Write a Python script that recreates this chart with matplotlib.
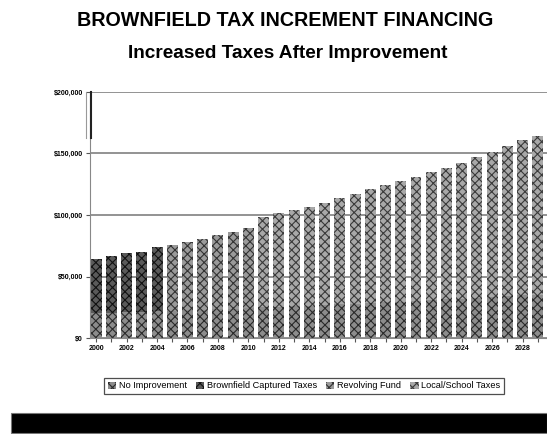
import matplotlib
matplotlib.use("Agg")
import matplotlib.pyplot as plt
from matplotlib.patches import Rectangle
from matplotlib.lines import Line2D
import numpy as np

plt.rcParams['font.family'] = ['Liberation Sans', 'DejaVu Sans']
plt.rcParams['hatch.linewidth'] = 0.8

years = [str(y) for y in range(2000, 2030)]
no_improvement = [20000, 20400, 20800, 21200, 21600, 22000, 22400, 22900, 23300, 23800,
                  24300, 24800, 25300, 25800, 26300, 26800, 27300, 27900, 28400, 29000,
                  29600, 30200, 30800, 31400, 32000, 32600, 33300, 34000, 34600, 35300]
brownfield_captured = [44200, 46300, 48300, 48700, 52400, 0, 0, 0, 0, 0,
                       0, 0, 0, 0, 0, 0, 0, 0, 0, 0,
                       0, 0, 0, 0, 0, 0, 0, 0, 0, 0]
revolving_fund = [0, 0, 0, 0, 0, 53600, 55600, 57600, 60400, 62400,
                  65100, 0, 0, 0, 0, 0, 0, 0, 0, 0,
                  0, 0, 0, 0, 0, 0, 0, 0, 0, 0]
local_school = [0, 0, 0, 0, 0, 0, 0, 0, 0, 0,
                0, 73600, 76300, 78300, 80200, 83000, 86500, 89200, 92700, 95400,
                98000, 100700, 104200, 106800, 110300, 114600, 117900, 122100, 126400, 128900]
series_names = ["No Improvement", "Brownfield Captured Taxes", "Revolving Fund", "Local/School Taxes"]
y_ticks = [0, 50000, 100000, 150000, 200000]
y_tick_labels = ["$0", "$50,000", "$100,000", "$150,000", "$200,000"]

W, H = 547, 434
fig = plt.figure(figsize=(W / 100, H / 100), dpi=100)
ax = fig.add_axes([90 / W, 1 - 338 / H, 1 - 90 / W, (338 - 92) / H])

x = np.arange(len(years))
width = 0.72
styles = [
    dict(color='#8c8c8c', hatch='xxxx', edgecolor='#2a2a2a'),
    dict(color='#5a5a5a', hatch='xxxx', edgecolor='#111111'),
    dict(color='#9a9a9a', hatch='xxxx', edgecolor='#333333'),
    dict(color='#a8a8a8', hatch='xxxx', edgecolor='#3a3a3a'),
]
bottom = np.zeros(len(years))
for name, vals, st in zip(series_names, [no_improvement, brownfield_captured, revolving_fund, local_school], styles):
    v = np.array(vals, dtype=float)
    ax.bar(x, v, width, bottom=bottom, color=st['color'], hatch=st['hatch'],
           edgecolor=st['edgecolor'], linewidth=0, label=name, zorder=2)
    bottom += v

ax.set_ylim(0, 200000)
ax.set_xlim(-0.4, 29.6)
ax.set_yticks(y_ticks)
ax.set_yticklabels(y_tick_labels, fontsize=5, fontweight='bold')
ax.set_xticks(x)
ax.set_xticklabels([y if i % 2 == 0 else '' for i, y in enumerate(years)], fontsize=5, fontweight='bold')
ax.tick_params(axis='both', length=3, width=0.8, color='#555555', pad=2)
ax.yaxis.grid(True, color='#808080', linewidth=1.2, zorder=0)
ax.set_axisbelow(True)
for s in ['top', 'right']:
    ax.spines[s].set_visible(False)
ax.spines['left'].set_color('#888888')
ax.spines['bottom'].set_color('#888888')

# artifact lines near top of y axis
fig.add_artist(Line2D([86 / W, 86 / W], [1 - 92 / H, 1 - 138 / H], color='#999999', lw=0.8))
fig.add_artist(Line2D([91 / W, 91 / W], [1 - 92 / H, 1 - 138 / H], color='#222222', lw=1.5))

fig.text(285 / W, 1 - 20 / H, "BROWNFIELD TAX INCREMENT FINANCING", ha='center', va='center',
         fontsize=14.2, fontweight='bold')
fig.text(288 / W, 1 - 53 / H, "Increased Taxes After Improvement", ha='center', va='center',
         fontsize=13.7, fontweight='bold')

leg = fig.legend(loc='center', bbox_to_anchor=(304 / W, 1 - 386 / H), ncol=4, fontsize=6.6,
                 frameon=True, fancybox=False, edgecolor='#222222', handlelength=0.9,
                 handleheight=0.9, columnspacing=1.0, handletextpad=0.3, borderpad=0.35)
leg.get_frame().set_linewidth(0.9)

fig.add_artist(Rectangle((11 / W, 1 - 433 / H), (W - 11) / W, 20 / H, transform=fig.transFigure,
                         facecolor='black', edgecolor='#777777', lw=0.8))

fig.savefig('out.png', dpi=100)
